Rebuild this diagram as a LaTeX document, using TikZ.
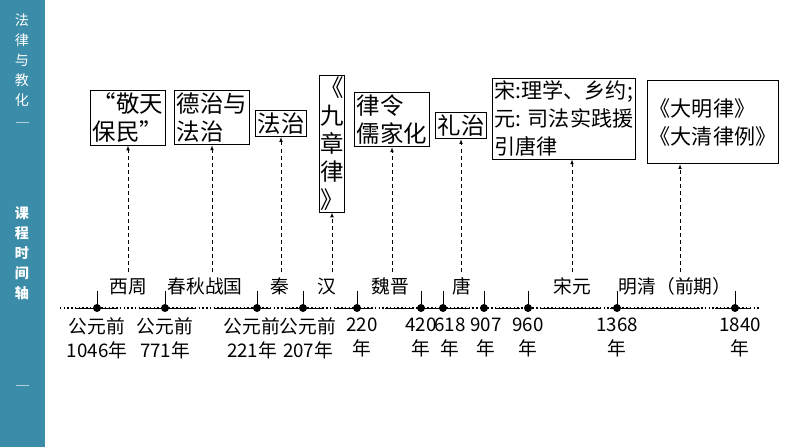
\documentclass[tikz,border=0pt]{standalone}
\usepackage{fontspec}
\setmainfont{Noto Sans CJK SC}
\usetikzlibrary{positioning,arrows}
\definecolor{barblue}{HTML}{3A8CA8}
\tikzset{evbox/.style={draw,thick,align=left,inner sep=2pt,font=\fontsize{20}{24}\selectfont},
         period/.style={font=\fontsize{16}{18}\selectfont,anchor=base},
         datelbl/.style={font=\fontsize{16}{20}\selectfont,align=center,anchor=north},
         uparrow/.style={dashed,->,>=latex}
}
\begin{document}
\begin{tikzpicture}[x=0.03cm,y=-0.03cm]
\useasboundingbox (0,0) rectangle (794,447);
\fill[barblue] (0,0) rectangle (45,447);
\node[white,align=center,font=\fontsize{12}{17}\selectfont] (side1) at (22,60) {法\\律\\与\\教\\化};
\node[white,align=center,font=\bfseries\fontsize{12}{17}\selectfont] (side2) at (22,253) {课\\程\\时\\间\\轴};
\draw[white!60!barblue,thick] (16,122) -- (29,122) (16,385) -- (29,385);
% timeline
\draw[line width=1.2pt,dotted] (60,308) -- (760,308);
\foreach \a/\b in {75/118,140/195,215/270,285/323,335/372,385/412,425/470,495/520,540/600,610/700,715/750}
  \draw[thick] (\a,308) -- (\b,308);
\foreach \x [count=\i] in {97,165,257,303,357,421,443,484,528,617,735}{
  \fill (\x,308) circle (4);
  \draw[thick] (\x,308) -- (\x,291);
  \coordinate (d\i) at (\x,308);
}
% periods
\foreach \x/\t in {128/西周,205/春秋战国,280/秦,327/汉,390/魏晋,462/唐,572/宋元,675/明清（前期）}
  \node[period] at (\x,293) {\t};
% dates
\node[datelbl] at (97,314) {公元前\\1046年};
\node[datelbl] at (165,314) {公元前\\771年};
\node[datelbl] at (252,314) {公元前\\221年};
\node[datelbl] at (308,314) {公元前\\207年};
\node[datelbl] at (362,314) {220\\年};
\node[datelbl] at (421,314) {420\\年};
\node[datelbl] at (450,314) {618\\年};
\node[datelbl] at (486,314) {907\\年};
\node[datelbl] at (528,314) {960\\年};
\node[datelbl] at (617,314) {1368\\年};
\node[datelbl] at (740,314) {1840\\年};
% boxes
\node[evbox,anchor=north] (zhou) at (128,90) {“敬天\\保民”};
\node[evbox,anchor=north] (chunqiu) at (212,90) {德治与\\法治};
\node[evbox,anchor=north] (qin) at (281,110) {法治};
\node[evbox,anchor=north,align=center,inner sep=1pt] (han) at (332,75) {《\\九\\章\\律\\》};
\node[evbox,anchor=north] (weijin) at (392,92) {律令\\儒家化};
\node[evbox,anchor=north] (tang) at (461,112) {礼治};
\node[evbox,anchor=north,font=\fontsize{18}{24}\selectfont] (songyuan) at (564,78) {宋:理学、乡约;\\元: 司法实践援\\引唐律};
\node[evbox,anchor=north,minimum height=2.5cm,font=\fontsize{18}{24}\selectfont] (mingqing) at (713,80) {《大明律》\\《大清律例》};
% arrows
\draw[uparrow] (128,272) -- (zhou);
\draw[uparrow] (212,272) -- (chunqiu);
\draw[uparrow] (281,272) -- (qin);
\draw[uparrow] (332,272) -- (han);
\draw[uparrow] (392,272) -- (weijin);
\draw[uparrow] (461,272) -- (tang);
\draw[uparrow] (572,272) -- (songyuan.south -| 572,0);
\draw[uparrow] (680,272) -- (mingqing.south -| 680,0);
\end{tikzpicture}
\end{document}
